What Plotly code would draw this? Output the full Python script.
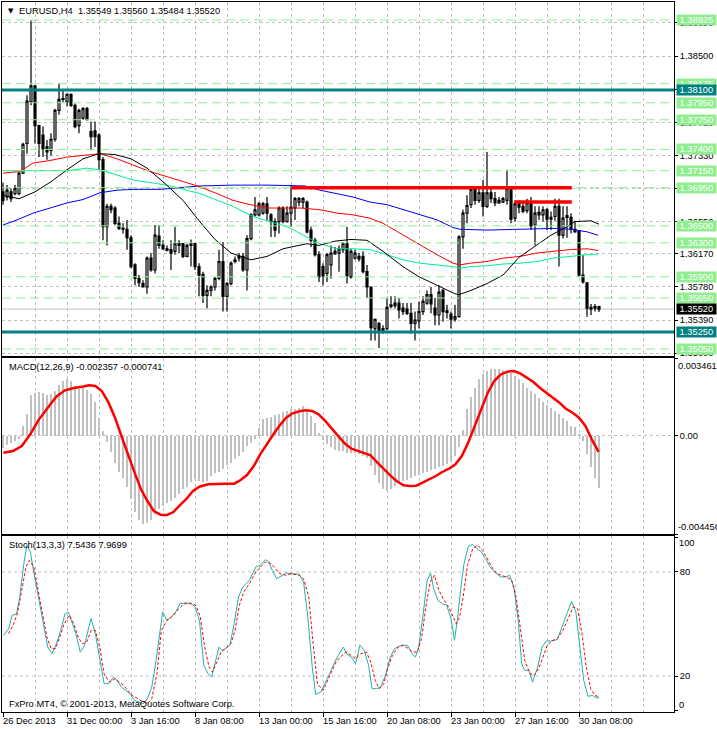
import plotly.graph_objects as go

# ---------------- data ----------------
bar_idx = list(range(150))

open_ = [
1.3690,1.3684,1.3690,1.3688,1.3688,1.3712,1.3747,1.3796,1.3815,1.3768,
1.3757,1.3743,1.3739,1.3752,1.3786,1.3799,1.3796,1.3805,1.3792,1.3768,
1.3777,1.3788,1.3761,1.3762,1.3757,1.3728,1.3649,1.3673,1.3671,1.3653,
1.3647,1.3646,1.3636,1.3604,1.3588,1.3582,1.3578,1.3612,1.3598,1.3638,
1.3627,1.3623,1.3622,1.3620,1.3629,1.3629,1.3614,1.3627,1.3629,1.3602,
1.3593,1.3568,1.3574,1.3578,1.3588,1.3608,1.3567,1.3582,1.3608,1.3612,
1.3614,1.3598,1.3635,1.3663,1.3663,1.3665,1.3676,1.3663,1.3655,1.3655,
1.3671,1.3655,1.3665,1.3671,1.3678,1.3678,1.3678,1.3645,1.3633,1.3616,
1.3602,1.3594,1.3604,1.3617,1.3618,1.3622,1.3629,1.3590,1.3612,1.3614,
1.3614,1.3596,1.3578,1.3529,1.3535,1.3526,1.3529,1.3555,1.3556,1.3559,
1.3553,1.3552,1.3547,1.3535,1.3538,1.3549,1.3559,1.3569,1.3553,1.3545,
1.3574,1.3550,1.3546,1.3540,1.3543,1.3637,1.3665,1.3675,1.3693,1.3680,
1.3689,1.3673,1.3689,1.3682,1.3677,1.3678,1.3680,1.3694,1.3659,1.3677,
1.3673,1.3668,1.3677,1.3651,1.3663,1.3663,1.3669,1.3658,1.3661,1.3673,
1.3639,1.3660,1.3660,1.3646,1.3644,1.3592,1.3583,1.3554,1.3553,1.35549]

high = [
1.3701,1.3698,1.3694,1.3698,1.3714,1.3748,1.3804,1.3892,1.3816,1.3769,
1.3767,1.3751,1.3759,1.3788,1.3818,1.3810,1.3806,1.3806,1.3794,1.3788,
1.3790,1.3790,1.3773,1.3773,1.3759,1.3731,1.3676,1.3676,1.3673,1.3661,
1.3653,1.3657,1.3639,1.3606,1.3592,1.3586,1.3614,1.3618,1.3651,1.3651,
1.3633,1.3627,1.3633,1.3649,1.3633,1.3629,1.3629,1.3634,1.3630,1.3606,
1.3596,1.3580,1.3580,1.3590,1.3622,1.3631,1.3584,1.3608,1.3614,1.3618,
1.3618,1.3639,1.3665,1.3684,1.3678,1.3678,1.3684,1.3665,1.3659,1.3673,
1.3673,1.3673,1.3698,1.3684,1.3684,1.3684,1.3680,1.3649,1.3636,1.3620,
1.3606,1.3618,1.3627,1.3625,1.3627,1.3631,1.3649,1.3623,1.3622,1.3618,
1.3620,1.3604,1.3578,1.3541,1.3537,1.3533,1.3565,1.3567,1.3567,1.3565,
1.3559,1.3559,1.3559,1.3549,1.3561,1.3567,1.3574,1.3578,1.3565,1.3580,
1.3576,1.3557,1.3549,1.3557,1.3639,1.3669,1.3686,1.3696,1.3696,1.3694,
1.3704,1.3737,1.3694,1.3690,1.3684,1.3684,1.3716,1.3696,1.3678,1.3680,
1.3677,1.3682,1.3684,1.3673,1.3673,1.3673,1.3671,1.3667,1.3682,1.3682,
1.3673,1.3673,1.3665,1.3656,1.3645,1.3616,1.3583,1.3558,1.3558,1.35560]

low = [
1.3675,1.3680,1.3678,1.3686,1.3686,1.3711,1.3735,1.3792,1.3747,1.3731,
1.3731,1.3728,1.3733,1.3749,1.3781,1.3796,1.3791,1.3790,1.3765,1.3759,
1.3775,1.3774,1.3739,1.3743,1.3716,1.3633,1.3627,1.3665,1.3651,1.3645,
1.3641,1.3622,1.3600,1.3580,1.3578,1.3578,1.3570,1.3596,1.3594,1.3623,
1.3622,1.3620,1.3598,1.3616,1.3618,1.3612,1.3613,1.3602,1.3598,1.3567,
1.3559,1.3553,1.3567,1.3574,1.3586,1.3549,1.3549,1.3580,1.3606,1.3608,
1.3596,1.3574,1.3633,1.3661,1.3661,1.3663,1.3657,1.3637,1.3637,1.3641,
1.3653,1.3654,1.3649,1.3657,1.3673,1.3671,1.3641,1.3625,1.3614,1.3584,
1.3580,1.3584,1.3588,1.3616,1.3596,1.3618,1.3582,1.3588,1.3610,1.3608,
1.3594,1.3565,1.3515,1.3515,1.3506,1.3523,1.3527,1.3553,1.3553,1.3541,
1.3545,1.3545,1.3523,1.3515,1.3529,1.3545,1.3557,1.3547,1.3533,1.3533,
1.3537,1.3541,1.3529,1.3537,1.3542,1.3623,1.3653,1.3671,1.3675,1.3677,
1.3661,1.3671,1.3677,1.3673,1.3676,1.3677,1.3675,1.3653,1.3655,1.3665,
1.3665,1.3665,1.3645,1.3627,1.3657,1.3655,1.3645,1.3645,1.3656,1.3602,
1.3635,1.3636,1.3641,1.3642,1.3590,1.3582,1.3543,1.3545,1.3549,1.35484]

close = [
1.3680,1.3692,1.3682,1.3694,1.3712,1.3746,1.3797,1.3815,1.3768,1.3747,
1.3741,1.3737,1.3752,1.3786,1.3799,1.3800,1.3805,1.3792,1.3767,1.3786,
1.3788,1.3775,1.3755,1.3755,1.3728,1.3649,1.3673,1.3669,1.3653,1.3647,
1.3646,1.3636,1.3602,1.3588,1.3583,1.3578,1.3612,1.3598,1.3639,1.3627,
1.3623,1.3621,1.3618,1.3629,1.3627,1.3614,1.3627,1.3629,1.3602,1.3592,
1.3568,1.3574,1.3578,1.3588,1.3608,1.3567,1.3582,1.3606,1.3610,1.3614,
1.3598,1.3635,1.3663,1.3669,1.3676,1.3676,1.3665,1.3655,1.3645,1.3671,
1.3655,1.3665,1.3672,1.3682,1.3682,1.3682,1.3643,1.3633,1.3616,1.3590,
1.3591,1.3616,1.3618,1.3620,1.3623,1.3629,1.3591,1.3620,1.3618,1.3611,
1.3596,1.3578,1.3530,1.3540,1.3525,1.3529,1.3554,1.3557,1.3559,1.3551,
1.3549,1.3547,1.3535,1.3539,1.3549,1.3561,1.3569,1.3558,1.3545,1.3572,
1.3549,1.3548,1.3540,1.3543,1.3637,1.3665,1.3674,1.3693,1.3680,1.3689,
1.3673,1.3689,1.3682,1.3677,1.3680,1.3682,1.3694,1.3658,1.3676,1.3672,
1.3667,1.3677,1.3650,1.3665,1.3666,1.3669,1.3658,1.3660,1.3673,1.3639,
1.3659,1.3662,1.3646,1.3643,1.3592,1.3584,1.3553,1.3552,1.3555,1.35520]

# moving averages (bar position, price)
ma_black_x = [0,4,8,12,16,20,24,28,32,36,40,45,49,53,57,62,66,70,74,76,79,83,87,91,95,100,104,108,113,114,117,121,125,129,133,137,141,143,147,149]
ma_black_v = [1.3686,1.3682,1.3690,1.3702,1.3716,1.3729,1.3735,1.3734,1.3729,1.3718,1.3702,1.3680,1.3656,1.3634,1.3618,1.3610,1.3614,1.3623,1.3627,1.3629,1.3627,1.3632,1.3634,1.3633,1.3620,1.3602,1.3590,1.3581,1.3570,1.3569,1.3574,1.3582,1.3592,1.3613,1.3626,1.3639,1.3649,1.3655,1.3656,1.3652]
ma_red_x = [0,4.25,7.5,11.75,16,20,24.25,28.5,32.5,36.75,41,45,49.25,53.5,57.5,61.75,66,70,74.25,79.25,83.5,87.5,91.75,95,100,104.25,108.5,112.5,114.25,116.75,121,125,129.25,133.5,137.5,141.75,146,148.75]
ma_red_v = [1.3712,1.3714,1.3724,1.3727,1.3731,1.3733,1.3735,1.3729,1.3722,1.3714,1.3708,1.3702,1.3696,1.3688,1.3680,1.3675,1.3671,1.3671,1.3671,1.3669,1.3665,1.3663,1.3659,1.3653,1.3639,1.3627,1.3616,1.3606,1.3604,1.3606,1.3608,1.3612,1.3614,1.3618,1.3620,1.3622,1.3623,1.3621]
ma_green_x = [0,16,21,24.25,32.5,41,49.25,57.5,62.5,71,79.25,83.5,87.5,91.75,96,100,104.25,108.5,112.5,114.25,116.75,121,125,129.25,133.5,137.5,141.75,146,148.75]
ma_green_v = [1.3715,1.3715,1.3718,1.3716,1.3704,1.3698,1.3688,1.3673,1.3661,1.3649,1.3629,1.3623,1.3623,1.3622,1.3616,1.3610,1.3606,1.3604,1.3602,1.3600,1.3602,1.3603,1.3605,1.3606,1.3608,1.3612,1.3614,1.3616,1.3616]
ma_blue_x = [0,3.5,7.5,11.75,16,20,24.25,28.5,32.5,39.25,43.5,49.25,57.5,66,75.5,79.25,87.5,91.75,96,100,104.25,108.5,112.5,114.25,121,129.25,137.5,141.75,146,148.75]
ma_blue_v = [1.3651,1.3657,1.3665,1.3671,1.3677,1.3681,1.3689,1.3692,1.3693,1.3693,1.3695,1.3697,1.3698,1.3698,1.3697,1.3692,1.3684,1.3678,1.3675,1.3669,1.3663,1.3657,1.3648,1.3646,1.3645,1.3646,1.3647,1.3646,1.3643,1.3639]

# horizontal objects
grid_prices = [1.35000,1.35390,1.35780,1.36170,1.36550,1.36940,1.37330,1.37720,1.38110,1.38500,1.38890]
green_levels = [1.38925,1.38175,1.37950,1.37750,1.37400,1.37150,1.36950,1.36500,1.36300,1.35900,1.35650,1.35050]
teal_levels = [1.38100,1.35250]
current_price = 1.35520
seg_start = [72.2, 127.8]
seg_end = [142.2, 142.2]
seg_price = [1.3695, 1.3678]

# MACD(12,26,9)
macd_main = [
-5.5e-4,-4.4e-4,-3.2e-4,-2.5e-4,-1.6e-4,4.3e-4,9.6e-4,18.3e-4,19.4e-4,19.7e-4,
19.1e-4,18.3e-4,18.9e-4,20.3e-4,22.7e-4,24.7e-4,25.4e-4,24.7e-4,22.4e-4,21.0e-4,
21.5e-4,20.7e-4,18.6e-4,15.2e-4,7.9e-4,1.9e-4,-3.1e-4,-7.5e-4,-12.3e-4,-16.7e-4,
-19.4e-4,-23.1e-4,-28.9e-4,-34.6e-4,-38.1e-4,-40.2e-4,-39.4e-4,-38.2e-4,-35.7e-4,-33.4e-4,
-31.7e-4,-30.7e-4,-29.8e-4,-28.4e-4,-26.5e-4,-24.2e-4,-23.3e-4,-21.2e-4,-19.8e-4,-20.4e-4,
-21.2e-4,-20.7e-4,-18.5e-4,-17.1e-4,-16.4e-4,-15.0e-4,-13.5e-4,-12.4e-4,-10.5e-4,-9.1e-4,
-7.6e-4,-4.9e-4,-3.4e-4,-1.4e-4,3.5e-4,7.3e-4,7.8e-4,8.5e-4,9.1e-4,9.9e-4,
10.5e-4,11.2e-4,11.8e-4,11.8e-4,12.6e-4,13.3e-4,11.5e-4,8.8e-4,5.5e-4,1.3e-4,
-2.0e-4,-3.8e-4,-5.2e-4,-6.4e-4,-7.0e-4,-7.2e-4,-7.8e-4,-7.8e-4,-7.8e-4,-8.4e-4,
-9.1e-4,-10.2e-4,-13.8e-4,-17.9e-4,-21.3e-4,-24.1e-4,-25.0e-4,-24.1e-4,-22.7e-4,-22.1e-4,
-20.6e-4,-20.0e-4,-19.2e-4,-18.5e-4,-17.9e-4,-17.1e-4,-16.4e-4,-15.6e-4,-15.0e-4,-14.4e-4,
-13.6e-4,-12.9e-4,-11.5e-4,-9.4e-4,-5.4e-4,2.5e-4,11.8e-4,17.3e-4,21.6e-4,25.4e-4,
27.8e-4,29.3e-4,29.9e-4,30.2e-4,29.9e-4,29.6e-4,29.2e-4,28.4e-4,27.1e-4,25.6e-4,
23.8e-4,21.3e-4,20.1e-4,18.8e-4,17.0e-4,15.3e-4,13.8e-4,12.4e-4,11.1e-4,9.6e-4,
8.1e-4,6.6e-4,4.4e-4,4.0e-4,0.5e-4,-2.5e-4,-8.5e-4,-14.2e-4,-19.1e-4,-0.002357]
macd_sig_x = [0.1,2.5,4.7,6.8,9.0,11.2,13.3,15.5,17.7,19.8,21.5,23.1,24.7,26.4,28.0,29.6,31.2,32.9,34.5,36.1,
37.7,39.4,41.0,42.6,44.2,45.9,47.5,49.1,51.3,53.5,55.6,57.8,59.4,61.0,62.7,64.3,65.9,67.6,69.2,70.8,
72.4,74.1,75.7,77.3,78.9,80.6,82.2,83.8,85.4,87.1,88.7,90.3,91.9,93.6,95.2,96.8,98.4,100.1,101.7,103.3,
104.9,106.6,108.2,109.8,111.5,113.1,114.7,116.3,118.0,119.6,121.2,122.8,124.5,126.1,127.7,129.3,131.0,132.6,134.2,135.8,
137.5,139.1,140.7,142.4,144.0,145.6,147.2,148.9]
macd_sig_v = [-7.77e-4,-7.01e-4,-4.75e-4,0.53e-4,7.31e-4,12.59e-4,17.57e-4,20.43e-4,21.49e-4,22.09e-4,
22.69e-4,22.39e-4,20.13e-4,14.85e-4,8.07e-4,-0.23e-4,-8.52e-4,-16.81e-4,-24.35e-4,-29.63e-4,
-34.16e-4,-35.82e-4,-35.97e-4,-34.61e-4,-31.59e-4,-28.58e-4,-25.11e-4,-23.15e-4,-22.09e-4,-21.79e-4,
-21.79e-4,-21.79e-4,-20.13e-4,-17.87e-4,-13.80e-4,-8.52e-4,-4.00e-4,0.53e-4,4.60e-4,8.07e-4,
10.03e-4,10.93e-4,11.39e-4,11.08e-4,9.58e-4,6.56e-4,3.09e-4,-0.23e-4,-3.54e-4,-5.96e-4,
-7.01e-4,-7.77e-4,-8.97e-4,-12.29e-4,-15.31e-4,-18.02e-4,-20.58e-4,-22.54e-4,-22.85e-4,-22.69e-4,
-21.34e-4,-19.83e-4,-18.32e-4,-16.51e-4,-15.00e-4,-13.04e-4,-9.27e-4,-3.24e-4,4.30e-4,11.84e-4,
19.38e-4,24.66e-4,27.67e-4,28.88e-4,29.18e-4,28.12e-4,26.16e-4,24.20e-4,21.64e-4,19.38e-4,
17.12e-4,14.85e-4,12.14e-4,10.33e-4,8.07e-4,4.30e-4,-1.73e-4,-0.000741]
macd_levels = [0.0]
macd_max, macd_min = 0.003461, -0.004456

# Stochastic(13,3,3)
stoch_main_x = [0.12,1.42,2.29,3.37,4.13,5.21,5.97,6.84,7.92,9.01,
10.09,11.18,12.26,13.34,14.43,15.51,16.38,17.14,18.22,19.31,
20.39,21.47,22.02,23.10,24.19,25.27,26.35,27.65,28.52,29.61,
30.69,31.77,32.86,33.94,35.03,36.11,37.19,38.28,39.90,40.99,
42.07,43.16,44.24,45.33,46.95,48.04,49.12,50.20,51.29,52.16,
52.91,54.00,54.76,55.62,56.71,57.79,58.88,59.96,61.59,63.21,
64.30,65.60,66.47,67.33,68.42,69.72,70.80,72.43,74.05,75.14,
76.22,77.31,78.17,79.48,80.56,81.64,82.73,83.81,85.11,85.98,
87.06,88.15,89.23,90.32,91.40,92.27,93.35,94.44,95.74,96.82,
97.91,99.53,101.16,102.24,103.11,103.87,104.95,106.04,106.90,107.66,
108.75,109.83,110.92,112.00,112.87,113.63,114.39,115.25,116.34,117.42,
118.50,119.59,120.67,121.76,122.84,124.47,125.55,126.64,127.72,128.80,
129.67,130.43,131.51,132.38,133.68,134.77,135.85,136.93,138.56,139.97,
141.27,142.14,143.22,144.31,145.18,146.26,147.34,148.43,149.0]
stoch_main_v = [43.4,47.3,55.0,55.9,64.6,84.8,95.4,91.5,77.1,63.6,
48.3,36.7,32.9,38.6,46.3,55.9,56.7,52.1,44.4,33.8,
37.7,48.3,53.1,44.4,31.0,15.6,15.6,19.4,17.5,13.6,
11.7,9.8,6.0,5.0,4.0,6.9,13.6,29.0,56.9,52.1,
54.0,56.9,61.7,62.1,62.1,59.8,52.1,26.1,21.3,19.4,
27.1,36.7,34.8,35.8,37.7,50.2,65.6,71.3,75.2,82.9,
83.8,87.1,85.8,80.9,76.1,78.1,79.4,79.0,78.6,74.2,
54.0,25.2,9.4,10.8,15.6,21.3,27.1,31.9,36.7,32.5,
31.0,27.1,37.7,34.8,26.1,12.7,12.7,13.6,21.3,31.0,
35.8,37.7,37.7,32.9,31.0,35.8,54.0,75.2,79.4,70.4,
63.6,61.7,60.8,53.1,40.6,53.1,69.4,84.8,94.8,95.9,
93.4,91.5,87.7,82.9,80.0,77.1,77.1,78.1,71.3,52.1,
27.1,23.3,23.3,16.5,25.2,36.7,40.2,40.2,41.0,50.2,
57.9,63.1,56.9,32.9,17.5,8.3,8.8,7.3,7.5436]
stoch_sig_x = [1.42,2.50,3.59,4.67,5.75,6.62,7.71,8.79,9.87,10.96,
12.04,13.13,14.21,15.30,16.60,17.68,18.76,19.85,20.93,22.02,
23.10,24.19,25.27,26.57,27.98,29.06,30.15,31.23,32.32,33.73,
35.03,36.11,37.19,38.49,39.58,40.99,42.61,43.92,45.33,46.95,
48.25,49.34,50.42,51.51,52.37,53.46,54.54,55.62,56.93,58.01,
59.09,60.18,61.59,63.21,64.30,65.60,66.68,67.77,69.18,70.59,
72.10,74.05,75.14,76.44,77.53,78.61,80.02,81.10,82.19,83.27,
84.35,85.76,87.06,88.15,89.45,90.86,91.94,93.03,94.11,95.19,
96.28,97.36,98.77,100.07,101.37,102.46,103.54,104.63,105.71,106.80,
107.88,108.96,110.05,111.13,112.22,113.30,114.17,115.04,116.12,117.42,
118.72,119.81,120.89,121.97,123.06,124.47,125.88,127.18,128.26,129.35,
130.43,131.73,132.82,133.90,134.98,136.07,137.15,138.56,139.97,141.27,
142.57,143.66,144.74,145.83,146.91,147.99,149.0]
stoch_sig_v = [44.4,49.2,55.9,68.4,82.9,86.7,82.9,69.4,55.0,42.5,
35.8,35.8,42.5,50.2,55.0,50.2,42.5,38.6,39.6,46.3,
46.3,36.7,21.3,16.5,18.4,16.5,14.6,11.7,8.8,6.9,
5.0,4.0,6.9,21.3,46.3,52.1,55.0,58.8,61.7,61.7,
60.8,54.0,36.7,25.2,22.3,28.1,33.8,35.8,38.6,46.3,
60.8,68.4,73.3,80.0,82.9,85.8,85.2,82.9,79.0,78.1,
79.0,78.1,76.1,65.6,38.6,15.6,11.7,17.5,22.3,28.1,
31.0,33.8,31.9,30.0,32.9,33.8,28.1,17.5,12.7,15.6,
25.2,31.9,36.7,37.7,35.8,33.8,33.8,41.5,59.8,74.2,
78.1,69.4,64.6,60.8,55.9,50.2,54.0,65.6,83.8,93.4,
95.4,92.5,88.6,83.8,80.0,78.1,77.1,75.2,65.6,46.3,
29.0,21.3,20.4,24.2,31.0,37.7,40.2,41.5,46.3,53.1,
59.8,58.8,44.4,25.2,12.7,8.8,7.9699]
stoch_levels = [80, 20]

# time axis labels
x_label_bars = [0,16,32,48,64,80,96,112,128,144]
x_labels = ["26 Dec 2013","31 Dec 00:00","3 Jan 16:00","8 Jan 08:00","13 Jan 00:00",
            "15 Jan 16:00","20 Jan 08:00","23 Jan 00:00","27 Jan 16:00","30 Jan 08:00"]

title_text = "EURUSD,H4\u00a0\u00a01.35549 1.35560 1.35484 1.35520"
macd_text = "MACD(12,26,9) -0.002357 -0.000741"
stoch_text = "Stoch(13,3,3) 7.5436 7.9699"
copyright_text = "FxPro MT4, \u00a9 2001-2013, MetaQuotes Software Corp."

# ---------------- style ----------------
FONT = "Liberation Sans, Arial, sans-serif"
FS = 9.3
GRID = "#C0C0C0"
GREEN = "#90EE90"
TEAL = "#008080"
X_RANGE = [-0.25, 167.75]
grid_bars = list(range(0, 168, 8))
NB = "\u00a0"

fig = go.Figure()

fig.add_trace(go.Candlestick(
    x=bar_idx, open=open_, high=high, low=low, close=close,
    increasing=dict(line=dict(color="black", width=1.2), fillcolor="white"),
    decreasing=dict(line=dict(color="black", width=1.2), fillcolor="black"),
    whiskerwidth=0, xaxis="x", yaxis="y", hoverinfo="skip"))

for xs, ys, col in [(ma_blue_x, ma_blue_v, "#0000FF"),
                    (ma_green_x, ma_green_v, "#00F090"),
                    (ma_red_x, ma_red_v, "#FF0000"),
                    (ma_black_x, ma_black_v, "#000000")]:
    fig.add_trace(go.Scatter(x=xs, y=ys, mode="lines", line=dict(color=col, width=1),
                             xaxis="x", yaxis="y", hoverinfo="skip"))

fig.add_trace(go.Bar(x=bar_idx, y=macd_main, width=0.28, marker=dict(color="#C0C0C0", line=dict(width=0)),
                     xaxis="x2", yaxis="y2", hoverinfo="skip"))
fig.add_trace(go.Scatter(x=macd_sig_x, y=macd_sig_v, mode="lines", line=dict(color="#FF0000", width=2.5),
                         xaxis="x2", yaxis="y2", hoverinfo="skip"))

fig.add_trace(go.Scatter(x=stoch_main_x, y=stoch_main_v, mode="lines", line=dict(color="#20B2AA", width=1),
                         xaxis="x3", yaxis="y3", hoverinfo="skip"))
fig.add_trace(go.Scatter(x=stoch_sig_x, y=stoch_sig_v, mode="lines",
                         line=dict(color="#FF0000", width=1, dash="3px,2px"),
                         xaxis="x3", yaxis="y3", hoverinfo="skip"))

shapes = []
for p in green_levels:
    shapes.append(dict(type="line", xref="paper", x0=0, x1=1, yref="y", y0=p, y1=p,
                       line=dict(color=GREEN, width=1, dash="9px,5px"), layer="above"))
shapes.append(dict(type="line", xref="paper", x0=0, x1=1, yref="y", y0=current_price, y1=current_price,
                   line=dict(color=GRID, width=1), layer="below"))
for p in teal_levels:
    shapes.append(dict(type="line", xref="paper", x0=0, x1=1, yref="y", y0=p, y1=p,
                       line=dict(color=TEAL, width=3), layer="above"))
for s, e, p in zip(seg_start, seg_end, seg_price):
    shapes.append(dict(type="line", xref="x", x0=s, x1=e, yref="y", y0=p, y1=p,
                       line=dict(color="#FF0000", width=3.5), layer="above"))
for p in macd_levels:
    shapes.append(dict(type="line", xref="paper", x0=0, x1=1, yref="y2", y0=p, y1=p,
                       line=dict(color=GRID, width=1, dash="3px,3px"), layer="below"))
for p in stoch_levels:
    shapes.append(dict(type="line", xref="paper", x0=0, x1=1, yref="y3", y0=p, y1=p,
                       line=dict(color=GRID, width=1, dash="3px,3px"), layer="below"))

txt = dict(family=FONT, size=FS, color="black")
wtxt = dict(family=FONT, size=FS, color="white")
ann = []
ann.append(dict(text="\u25bc", xref="paper", x=0, xanchor="left", xshift=4, yref="paper", y=1,
                yanchor="top", yshift=-3, showarrow=False, font=dict(family="DejaVu Sans", size=7, color="black")))
ann.append(dict(text=title_text, xref="paper", x=0, xanchor="left", xshift=15, yref="paper", y=1,
                yanchor="top", yshift=-2, showarrow=False, font=txt))
ann.append(dict(text=macd_text, xref="paper", x=0, xanchor="left", xshift=5, yref="paper", y=0.49859,
                yanchor="top", yshift=-2, showarrow=False, font=txt))
ann.append(dict(text=stoch_text, xref="paper", x=0, xanchor="left", xshift=5, yref="paper", y=0.24789,
                yanchor="top", yshift=-2, showarrow=False, font=txt))
ann.append(dict(text=copyright_text, xref="paper", x=0, xanchor="left", xshift=5, yref="paper", y=0,
                yanchor="bottom", yshift=1, showarrow=False, font=txt))
for b, t in zip(x_label_bars, x_labels):
    ann.append(dict(text=t, xref="x3", x=b, xanchor="left", xshift=-2, yref="paper", y=0,
                    yanchor="top", yshift=-2, showarrow=False, font=txt))
# right-side value labels
ann.append(dict(text=f"{macd_max:.6f}", xref="paper", x=1, xanchor="left", xshift=2, yref="y2", y=macd_max,
                yanchor="top", showarrow=False, font=txt))
ann.append(dict(text=f"{macd_min:.6f}", xref="paper", x=1, xanchor="left", xshift=2, yref="y2", y=macd_min,
                yanchor="bottom", showarrow=False, font=txt))
ann.append(dict(text="100", xref="paper", x=1, xanchor="left", xshift=3, yref="y3", y=100.75,
                yanchor="top", showarrow=False, font=txt))
ann.append(dict(text="0", xref="paper", x=1, xanchor="left", xshift=3, yref="y3", y=-0.75,
                yanchor="bottom", showarrow=False, font=txt))
for p in green_levels:
    ann.append(dict(text=NB + f"{p:.5f}" + NB, xref="paper", x=1, xanchor="left", xshift=2, yref="y", y=p,
                    yanchor="middle", showarrow=False, font=wtxt, bgcolor=GREEN, borderpad=0))
for p in teal_levels:
    ann.append(dict(text=NB + f"{p:.5f}" + NB, xref="paper", x=1, xanchor="left", xshift=2, yref="y", y=p,
                    yanchor="middle", showarrow=False, font=wtxt, bgcolor=TEAL, borderpad=0))
ann.append(dict(text=NB + f"{current_price:.5f}" + NB, xref="paper", x=1, xanchor="left", xshift=2, yref="y",
                y=current_price, yanchor="middle", showarrow=False, font=wtxt, bgcolor="black", borderpad=0))

xcommon = dict(range=X_RANGE, showline=True, mirror=True, linecolor="black", linewidth=1,
               zeroline=False, showgrid=True, gridcolor=GRID, griddash="3px,3px", gridwidth=1,
               fixedrange=True)
ycommon = dict(side="right", showline=True, mirror=True, linecolor="black", linewidth=1,
               zeroline=False, ticks="outside", ticklen=3, tickcolor="black",
               tickfont=txt, fixedrange=True)

fig.update_layout(
    width=717, height=729,
    margin=dict(l=2, r=43, t=2, b=17),
    paper_bgcolor="white", plot_bgcolor="white",
    showlegend=False, bargap=0,
    font=txt,
    xaxis=dict(domain=[0, 1], anchor="y", tickmode="array", tickvals=grid_bars, ticks="",
               showticklabels=False, rangeslider=dict(visible=False), **xcommon),
    xaxis2=dict(domain=[0, 1], anchor="y2", tickmode="array", tickvals=grid_bars, ticks="",
                showticklabels=False, **xcommon),
    xaxis3=dict(domain=[0, 1], anchor="y3", tickmode="array", tickvals=x_label_bars, ticks="outside",
                ticklen=4, tickcolor="black", showticklabels=False,
                minor=dict(tickmode="array", tickvals=[b for b in grid_bars if b not in x_label_bars],
                           showgrid=True, gridcolor=GRID, griddash="3px,3px", ticks=""),
                **xcommon),
    yaxis=dict(domain=[0.50141, 1], anchor="x", range=[1.34967, 1.39137], tickmode="array",
               tickvals=grid_prices, ticktext=[f"{p:.5f}" for p in grid_prices],
               showgrid=True, gridcolor=GRID, griddash="3px,3px", **ycommon),
    yaxis2=dict(domain=[0.25070, 0.49859], anchor="x2", range=[-0.004456, 0.003506], tickmode="array",
                tickvals=[macd_max, 0, macd_min], ticktext=["", "0.00", ""], showgrid=False, **ycommon),
    yaxis3=dict(domain=[0, 0.24789], anchor="x3", range=[-0.75, 100.75], tickmode="array",
                tickvals=[100, 80, 20, 0], ticktext=["", "80", "20", ""], showgrid=False, **ycommon),
    shapes=shapes, annotations=ann,
)

fig.write_html("out.html", config={"displayModeBar": False, "staticPlot": True},
               post_script="document.body.style.margin='0px';document.body.style.overflow='hidden';")
